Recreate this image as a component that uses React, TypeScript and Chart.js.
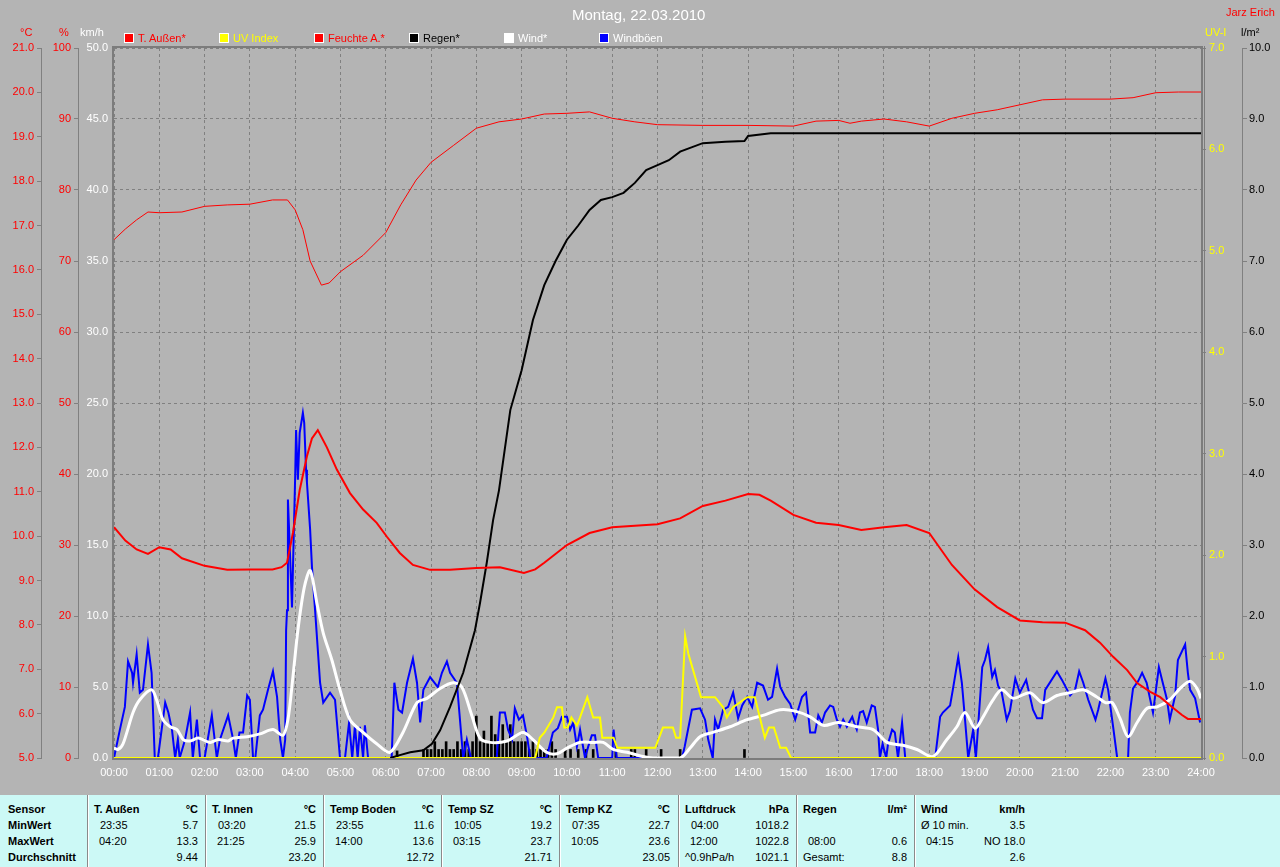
import React, { useEffect, useRef } from "react";
import { Chart, registerables } from "chart.js";

Chart.register(...registerables);

// ---------- tick labels ----------
const hourLabels = [
  "00:00", "01:00", "02:00", "03:00", "04:00", "05:00", "06:00", "07:00", "08:00",
  "09:00", "10:00", "11:00", "12:00", "13:00", "14:00", "15:00", "16:00", "17:00",
  "18:00", "19:00", "20:00", "21:00", "22:00", "23:00", "24:00",
];

// ---------- T. Außen (°C) ----------
const tempT = [0, 0.25, 0.5, 0.75, 1, 1.25, 1.5, 2, 2.5, 3, 3.5, 3.7, 3.82, 3.95, 4.1, 4.26, 4.37, 4.5, 4.7, 4.92, 5.21, 5.5, 5.8, 6.03, 6.31, 6.6, 6.98, 7.42, 8, 8.52, 9.05, 9.3, 9.5, 10, 10.5, 11, 12, 12.5, 13, 13.5, 14, 14.25, 14.5, 15, 15.5, 16, 16.5, 17, 17.5, 18, 18.5, 19, 19.5, 20, 20.5, 21, 21.44, 21.77, 22.06, 22.37, 22.59, 22.88, 23.1, 23.36, 23.58, 23.71, 24];
const tempV = [10.2, 9.9, 9.7, 9.6, 9.75, 9.7, 9.5, 9.33, 9.24, 9.25, 9.25, 9.3, 9.4, 10.07, 11.04, 11.8, 12.2, 12.39, 12.0, 11.5, 10.97, 10.6, 10.3, 9.98, 9.62, 9.35, 9.24, 9.24, 9.28, 9.3, 9.17, 9.25, 9.4, 9.8, 10.07, 10.2, 10.27, 10.4, 10.68, 10.8, 10.95, 10.93, 10.8, 10.48, 10.3, 10.25, 10.14, 10.2, 10.25, 10.07, 9.35, 8.8, 8.4, 8.1, 8.06, 8.05, 7.88, 7.6, 7.28, 6.98, 6.69, 6.49, 6.37, 6.15, 5.97, 5.88, 5.88];

// ---------- Feuchte A. (%) ----------
const humT = [0, 0.25, 0.5, 0.75, 1, 1.5, 2, 2.5, 3, 3.5, 3.83, 4, 4.17, 4.33, 4.58, 4.75, 5, 5.5, 6, 6.33, 6.67, 7, 7.5, 8, 8.5, 9, 9.5, 10, 10.5, 11, 11.5, 12, 13, 14, 15, 15.5, 16, 16.25, 16.5, 17, 17.5, 18, 18.5, 19, 19.5, 20, 20.5, 21, 22, 22.5, 23, 23.5, 24];
const humV = [73, 74.5, 75.8, 76.9, 76.8, 76.9, 77.7, 77.9, 78, 78.6, 78.6, 77.2, 74.4, 70, 66.6, 66.9, 68.5, 70.8, 74, 77.9, 81.4, 83.9, 86.3, 88.7, 89.6, 90, 90.7, 90.8, 91, 90.1, 89.6, 89.2, 89.1, 89.1, 89, 89.7, 89.8, 89.4, 89.7, 90, 89.6, 89, 90.1, 90.8, 91.3, 92, 92.7, 92.8, 92.8, 93, 93.7, 93.8, 93.8];

// ---------- Regen, cumulative (l/m²) ----------
const rainT = [6.1, 6.25, 6.54, 6.83, 7.02, 7.2, 7.42, 7.71, 7.97, 8.08, 8.23, 8.37, 8.5, 8.75, 9, 9.25, 9.5, 9.75, 10, 10.25, 10.5, 10.75, 11, 11.25, 11.5, 11.75, 12, 12.25, 12.5, 12.75, 13, 13.5, 13.92, 14, 14.5, 24];
const rainV = [0, 0.03, 0.08, 0.11, 0.2, 0.39, 0.72, 1.2, 1.8, 2.18, 2.75, 3.35, 3.77, 4.9, 5.46, 6.17, 6.66, 7.0, 7.3, 7.5, 7.72, 7.86, 7.9, 7.96, 8.1, 8.28, 8.35, 8.42, 8.54, 8.6, 8.66, 8.68, 8.69, 8.76, 8.8, 8.8];

// ---------- Regen per 5 min (l/m²) ----------
const barT = [6.25, 6.833, 6.917, 7.0, 7.083, 7.167, 7.25, 7.333, 7.417, 7.5, 7.583, 7.667, 7.75, 7.833, 7.917, 8.0, 8.083, 8.167, 8.25, 8.333, 8.417, 8.5, 8.583, 8.667, 8.75, 8.833, 8.917, 9.0, 9.083, 9.167, 9.25, 9.333, 9.417, 9.5, 9.583, 9.667, 9.75, 9.96, 10.08, 10.25, 10.42, 10.58, 11.08, 11.42, 11.5, 11.75, 12.08, 12.5, 13.92];
const barV = [0.1, 0.12, 0.12, 0.12, 0.23, 0.12, 0.12, 0.23, 0.12, 0.12, 0.23, 0.12, 0.23, 0.12, 0.23, 0.59, 0.23, 0.38, 0.23, 0.59, 0.33, 0.23, 0.47, 0.23, 0.47, 0.23, 0.23, 0.23, 0.23, 0.12, 0.23, 0.12, 0.12, 0.12, 0.12, 0.23, 0.12, 0.12, 0.12, 0.12, 0.12, 0.12, 0.12, 0.12, 0.12, 0.12, 0.12, 0.12, 0.12];

// ---------- UV Index ----------
const uvT = [0, 9.3, 9.4, 9.5, 9.7, 9.78, 9.89, 9.94, 10.02, 10.1, 10.22, 10.29, 10.45, 10.58, 10.73, 10.78, 11.03, 11.11, 11.95, 12.12, 12.34, 12.41, 12.5, 12.61, 12.68, 12.83, 12.96, 13.27, 13.45, 13.53, 13.67, 13.98, 14.15, 14.26, 14.37, 14.46, 14.57, 14.71, 14.84, 14.95, 24];
const uvV = [0, 0, 0.2, 0.25, 0.4, 0.5, 0.5, 0.3, 0.3, 0.4, 0.32, 0.4, 0.6, 0.4, 0.4, 0.2, 0.2, 0.1, 0.1, 0.3, 0.3, 0.2, 0.2, 1.2, 1.03, 0.8, 0.6, 0.6, 0.5, 0.4, 0.5, 0.6, 0.6, 0.4, 0.2, 0.3, 0.3, 0.1, 0.1, 0, 0];

// ---------- Wind (km/h) ----------
const windT = [0, 0.09, 0.2, 0.42, 0.57, 0.83, 0.94, 1.08, 1.24, 1.39, 1.53, 1.68, 1.86, 2.12, 2.3, 2.52, 2.63, 2.94, 3.22, 3.51, 3.73, 3.84, 3.95, 4.06, 4.2, 4.33, 4.48, 4.62, 4.81, 4.99, 5.21, 5.5, 5.8, 6.09, 6.38, 6.69, 6.91, 7.2, 7.49, 7.68, 7.9, 8.08, 8.3, 8.68, 9.03, 9.25, 9.55, 9.78, 10, 10.29, 10.58, 10.8, 11.02, 11.33, 11.68, 11.9, 12.5, 12.72, 12.94, 13.22, 13.6, 13.98, 14.33, 14.71, 15.04, 15.37, 15.66, 15.99, 16.4, 16.76, 17.07, 17.42, 17.73, 18.08, 18.39, 18.61, 18.79, 19.01, 19.19, 19.39, 19.6, 19.85, 20.22, 20.51, 20.82, 21.11, 21.4, 21.7, 21.89, 22.04, 22.21, 22.39, 22.59, 22.81, 23.03, 23.31, 23.54, 23.76, 23.91, 24];
const windV = [0.7, 0.6, 1.0, 3.2, 4.1, 4.8, 4.1, 2.7, 2.2, 2.0, 1.3, 1.2, 1.4, 1.1, 1.3, 1.2, 1.4, 1.5, 1.7, 2.0, 1.6, 2.7, 5.7, 9.0, 12.0, 13.2, 10.9, 8.8, 6.9, 4.8, 2.7, 1.8, 1.0, 0.4, 1.8, 3.9, 4.2, 4.9, 5.3, 5.0, 3.0, 1.4, 1.1, 1.2, 1.8, 1.3, 0.4, 0.3, 0.7, 1.1, 1.1, 1.1, 0.6, 0.4, 0.1, 0, 0, 0.7, 1.5, 1.8, 2.2, 2.7, 3.0, 3.4, 3.3, 2.9, 2.3, 2.5, 2.2, 2.0, 1.1, 0.9, 0.6, 0.1, 1.3, 2.2, 3.2, 2.1, 2.9, 4.0, 4.8, 4.2, 4.6, 3.9, 4.4, 4.6, 4.8, 4.3, 3.9, 3.9, 2.8, 1.5, 2.5, 3.5, 3.6, 4.1, 4.9, 5.4, 4.9, 4.2];

// ---------- Windböen (km/h) ----------
const gustT = [0, 0.13, 0.24, 0.31, 0.4, 0.42, 0.5, 0.57, 0.64, 0.75, 0.83, 0.9, 0.97, 1.13, 1.2, 1.28, 1.35, 1.41, 1.45, 1.57, 1.68, 1.74, 1.83, 1.9, 2, 2.16, 2.27, 2.34, 2.52, 2.63, 2.69, 2.77, 2.85, 2.94, 3, 3.07, 3.12, 3.22, 3.29, 3.4, 3.51, 3.6, 3.67, 3.73, 3.78, 3.8, 3.82, 3.84, 3.88, 3.93, 4, 4.02, 4.06, 4.1, 4.17, 4.2, 4.24, 4.26, 4.33, 4.37, 4.44, 4.55, 4.62, 4.77, 4.88, 4.99, 5.1, 5.19, 5.26, 5.32, 5.38, 5.43, 5.5, 5.54, 5.61, 6.13, 6.19, 6.28, 6.36, 6.47, 6.6, 6.69, 6.76, 6.83, 6.98, 7.15, 7.24, 7.35, 7.42, 7.57, 7.71, 7.79, 7.88, 8.45, 8.52, 8.63, 8.7, 8.79, 8.85, 8.94, 9.03, 9.12, 9.19, 9.55, 9.69, 9.8, 9.89, 10, 10.07, 10.14, 10.22, 10.29, 10.4, 10.47, 10.55, 10.62, 10.69, 11, 11.03, 11.1, 12.54, 12.6, 12.76, 12.94, 13.05, 13.12, 13.22, 13.27, 13.34, 13.45, 13.56, 13.67, 13.78, 13.87, 13.98, 14.09, 14.2, 14.33, 14.44, 14.53, 14.64, 14.71, 14.82, 14.93, 15.04, 15.19, 15.28, 15.37, 15.48, 15.55, 15.63, 15.7, 15.81, 15.88, 15.96, 16.03, 16.1, 16.18, 16.3, 16.34, 16.4, 16.47, 16.54, 16.62, 16.73, 16.8, 16.87, 16.91, 16.97, 17.05, 17.09, 17.18, 17.24, 17.31, 17.4, 17.47, 18.13, 18.24, 18.3, 18.46, 18.52, 18.64, 18.72, 18.79, 18.86, 18.97, 19.03, 19.17, 19.23, 19.3, 19.39, 19.45, 19.52, 19.6, 19.71, 19.78, 19.9, 20, 20.14, 20.29, 20.38, 20.49, 20.56, 20.82, 20.93, 21.11, 21.22, 21.31, 21.4, 21.51, 21.67, 21.73, 21.89, 21.95, 22.06, 22.15, 22.39, 22.43, 22.5, 22.61, 22.7, 22.8, 22.94, 23.07, 23.14, 23.25, 23.31, 23.43, 23.49, 23.65, 23.71, 23.76, 23.87, 23.98];
const gustV = [0, 2.0, 3.6, 6.8, 6.0, 5.3, 7.3, 4.6, 4.8, 8.0, 6.0, 0, 0, 3.9, 3.2, 2.0, 0, 1.3, 0, 1.3, 3.2, 0, 2.7, 0, 0, 3.0, 0, 1.3, 3.0, 1.3, 0, 1.8, 1.8, 4.4, 4.1, 0, 0, 3.0, 3.4, 4.8, 6.1, 4.3, 1.3, 0, 1.3, 9.0, 10.4, 18.2, 14.9, 10.6, 19.8, 23.1, 19.6, 22.9, 24.3, 23.6, 20.3, 19.4, 16.1, 13.5, 10.4, 5.3, 3.9, 4.6, 4.1, 0, 0, 2.5, 0, 2.3, 0, 2.2, 0, 2.3, 0, 0, 5.3, 3.4, 3.2, 5.3, 7.0, 5.3, 2.5, 4.8, 5.7, 5.0, 6.0, 6.8, 6.0, 5.3, 0, 1.3, 0, 0, 3.2, 3.2, 2.0, 1.3, 3.5, 2.7, 3.0, 1.5, 0, 0, 1.8, 2.1, 2.9, 2.9, 2.0, 2.5, 0.8, 2.0, 0, 0.8, 1.6, 1.6, 0, 0, 2.0, 0, 0, 0.8, 3.4, 3.5, 2.7, 1.3, 0, 2.7, 2.0, 3.4, 3.6, 4.6, 2.8, 3.7, 4.3, 3.6, 5.3, 5.1, 4.1, 4.3, 6.3, 5.0, 4.3, 3.8, 2.7, 4.3, 4.6, 1.8, 1.8, 3.0, 2.5, 3.2, 3.7, 3.6, 2.7, 2.2, 2.7, 2.2, 2.9, 2.5, 2.0, 3.2, 3.3, 2.5, 3.7, 3.6, 2.0, 0, 1.0, 0, 1.0, 2.0, 1.8, 0, 2.5, 0, 0, 2.9, 3.2, 3.7, 4.8, 7.1, 5.3, 2.7, 0, 2.0, 0, 6.4, 6.9, 7.8, 5.7, 6.2, 5.1, 4.6, 2.7, 3.3, 5.6, 4.6, 5.5, 3.4, 2.8, 2.8, 4.8, 6.1, 5.5, 4.4, 4.8, 6.1, 5.3, 4.1, 2.7, 3.4, 5.6, 4.8, 2.2, 0, 0, 3.2, 4.9, 5.4, 6.0, 5.3, 3.2, 6.4, 5.5, 4.1, 2.7, 4.4, 6.9, 8.0, 6.0, 4.8, 4.2, 2.5];

// ---------- legend ----------
const legendNames = ["T. Außen*", "UV Index", "Feuchte A.*", "Regen*", "Wind*", "Windböen"];
const legendBoxColors = ["#ff0000", "#ffff00", "#ff0000", "#000000", "#ffffff", "#0000ff"];
const legendTextColors = ["#ff0000", "#ffff00", "#ff0000", "#000000", "#ffffff", "#ffffff"];

// ---------- summary table ----------
const rowNames = ["Sensor", "MinWert", "MaxWert", "Durchschnitt"];
const colNames = ["T. Außen", "T. Innen", "Temp Boden", "Temp SZ", "Temp KZ", "Luftdruck", "Regen", "Wind"];
const colUnits = ["°C", "°C", "°C", "°C", "°C", "hPa", "l/m²", "km/h"];
const minTimes = ["23:35", "03:20", "23:55", "10:05", "07:35", "04:00", "", ""];
const minLabels = ["", "", "", "", "", "", "", "Ø 10 min."];
const minValues = ["5.7", "21.5", "11.6", "19.2", "22.7", "1018.2", "", "3.5"];
const maxTimes = ["04:20", "21:25", "14:00", "03:15", "10:05", "12:00", "08:00", "04:15"];
const maxValues = ["13.3", "25.9", "13.6", "23.7", "23.6", "1022.8", "0.6", "NO 18.0"];
const avgLabels = ["", "", "", "", "", "^0.9hPa/h", "Gesamt:", ""];
const avgValues = ["9.44", "23.20", "12.72", "21.71", "23.05", "1021.1", "8.8", "2.6"];

const pts = (t: number[], v: number[]) => t.map((x, i) => ({ x, y: v[i] }));
const fmt1 = (v: any) => Number(v).toFixed(1);

const FONT = '"Liberation Sans", Arial, sans-serif';
const GRID = "#808080";

export default function App() {
  const ref = useRef<HTMLCanvasElement>(null);

  useEffect(() => {
    if (!ref.current) return;
    Chart.defaults.font.family = FONT;
    Chart.defaults.font.size = 11;

    const frame = {
      id: "frame",
      beforeDatasetsDraw(chart: any) {
        const { ctx, chartArea: a } = chart;
        ctx.save();
        ctx.strokeStyle = "#7c7c7c";
        ctx.lineWidth = 2;
        ctx.strokeRect(a.left - 1, a.top - 1, a.right - a.left + 2, a.bottom - a.top + 2);
        ctx.lineWidth = 1;
        ctx.beginPath();
        ctx.moveTo(a.right + 3.5, a.top - 2);
        ctx.lineTo(a.right + 3.5, a.bottom + 2);
        ctx.stroke();
        ctx.restore();
      },
    };

    const chart = new Chart(ref.current, {
      type: "line",
      data: {
        datasets: [
          { type: "line", label: "Feuchte A.*", data: pts(humT, humV), yAxisID: "yH", borderColor: "#ff0000", borderWidth: 1, pointRadius: 0, tension: 0 },
          { type: "line", label: "T. Außen*", data: pts(tempT, tempV), yAxisID: "yT", borderColor: "#ff0000", borderWidth: 2, pointRadius: 0, tension: 0 },
          { type: "line", label: "Regen*", data: pts(rainT, rainV), yAxisID: "yR", borderColor: "#000000", borderWidth: 2, pointRadius: 0, tension: 0 },
          { type: "line", label: "UV Index", data: pts(uvT, uvV), yAxisID: "yU", borderColor: "#ffff00", borderWidth: 2, pointRadius: 0, tension: 0 },
          { type: "line", label: "Wind*", data: pts(windT, windV), yAxisID: "yW", borderColor: "#ffffff", borderWidth: 3, pointRadius: 0, tension: 0.3 },
          { type: "line", label: "Windböen", data: pts(gustT, gustV), yAxisID: "yW", borderColor: "#0000ff", borderWidth: 2, pointRadius: 0, tension: 0 },
          { type: "bar", label: "Regen 5 min", data: pts(barT, barV), yAxisID: "yR", backgroundColor: "#000000", barThickness: 2, grouped: false },
        ] as any,
      },
      options: {
        animation: false,
        responsive: false,
        events: [],
        layout: { padding: { top: 48, left: 0, right: 0, bottom: 0 } },
        plugins: { legend: { display: false }, tooltip: { enabled: false }, title: { display: false } },
        scales: {
          x: {
            type: "linear", position: "bottom", min: 0, max: 24, offset: false,
            ticks: { stepSize: 1, autoSkip: false, maxRotation: 0, color: "#ffffff", padding: 8, callback: (v: any) => hourLabels[Math.round(Number(v))] },
            grid: { color: GRID, lineWidth: 1, drawTicks: false, offset: false },
            border: { display: false, dash: [3, 3] },
            afterFit: (s: any) => { s.height = 32; },
          },
          yW: {
            type: "linear", position: "left", weight: 0, min: 0, max: 50,
            ticks: { stepSize: 5, color: "#ffffff", padding: 6, callback: fmt1 },
            grid: { color: GRID, lineWidth: 1, drawTicks: false },
            border: { display: false, dash: [3, 3] },
            afterFit: (s: any) => { s.width = 36; },
          },
          yH: {
            type: "linear", position: "left", weight: 1, min: 0, max: 100,
            ticks: { stepSize: 10, color: "#ff0000", padding: 3 },
            grid: { drawOnChartArea: false, color: GRID, tickLength: 4 },
            border: { color: GRID, width: 1 },
            afterFit: (s: any) => { s.width = 37; },
          },
          yT: {
            type: "linear", position: "left", weight: 2, min: 5, max: 21,
            ticks: { stepSize: 1, color: "#ff0000", padding: 3, callback: fmt1 },
            grid: { drawOnChartArea: false, color: GRID, tickLength: 4 },
            border: { color: GRID, width: 1 },
            afterFit: (s: any) => { s.width = 41; },
          },
          yU: {
            type: "linear", position: "right", weight: 0, min: 0, max: 7,
            ticks: { stepSize: 1, color: "#ffff00", padding: 3, callback: fmt1 },
            grid: { drawOnChartArea: false, color: GRID, tickLength: 5 },
            border: { display: false },
            afterFit: (s: any) => { s.width = 41; },
          },
          yR: {
            type: "linear", position: "right", weight: 1, min: 0, max: 10,
            ticks: { stepSize: 1, color: "#000000", padding: 2, callback: fmt1 },
            grid: { drawOnChartArea: false, color: GRID, tickLength: 5 },
            border: { color: GRID, width: 1 },
            afterFit: (s: any) => { s.width = 38; },
          },
        },
      } as any,
      plugins: [frame],
    });
    return () => chart.destroy();
  }, []);

  const txt = (left: number, top: number, color: string, content: string, extra: any = {}) => (
    <div style={{ position: "absolute", left, top, color, lineHeight: "12px", whiteSpace: "nowrap", ...extra }}>{content}</div>
  );

  const seps = colNames.map((_, i) => Math.round(88 + 118.1 * i));
  const rowTop = [801, 817, 833, 849];

  return (
    <div style={{ position: "absolute", left: 0, top: 0, width: 1280, height: 867, background: "#b4b4b4", fontFamily: FONT, fontSize: 11, overflow: "hidden" }}>
      <canvas ref={ref} width={1280} height={790} style={{ position: "absolute", left: 0, top: 0, width: 1280, height: 790 }} />

      {txt(572, 6, "#ffffff", "Montag, 22.03.2010", { fontSize: 15, lineHeight: "17px" })}
      {txt(1226, 6, "#ff0000", "Jarz Erich")}

      {txt(20, 26, "#ff0000", "°C")}
      {txt(59, 26, "#ff0000", "%")}
      {txt(80, 26, "#ffffff", "km/h")}
      {txt(1205, 26, "#ffff00", "UV-I")}
      {txt(1241, 26, "#000000", "l/m²")}

      {legendNames.map((n, i) => (
        <React.Fragment key={n}>
          <div style={{ position: "absolute", left: 124 + 95 * i, top: 33, width: 10, height: 10, boxSizing: "border-box", border: "1px solid #ffffff", background: legendBoxColors[i] }} />
          {txt(138 + 95 * i, 32, legendTextColors[i], n)}
        </React.Fragment>
      ))}

      <div style={{ position: "absolute", left: 0, top: 795, width: 1280, height: 72, background: "#ccf9f6" }} />
      {seps.map((s) => (
        <div key={s} style={{ position: "absolute", left: s - 1, top: 795, width: 1, height: 72, background: "#8a8a8a", borderRight: "1px solid #ffffff" }} />
      ))}
      {rowNames.map((r, i) => (
        <div key={r} style={{ position: "absolute", left: 8, top: rowTop[i], lineHeight: "16px", fontWeight: "bold", color: "#000" }}>{r}</div>
      ))}
      {colNames.map((c, i) => {
        const s = seps[i];
        const cell = (top: number, left: number, content: string, align: "left" | "right", bold = false) =>
          content ? (
            <div style={{ position: "absolute", left, top, width: align === "right" ? 0 : undefined, lineHeight: "16px", fontWeight: bold ? "bold" : "normal", color: "#000", whiteSpace: "nowrap", direction: align === "right" ? "rtl" : "ltr" }}>
              {align === "right" ? <span style={{ direction: "ltr", unicodeBidi: "isolate" }}>{content}</span> : content}
            </div>
          ) : null;
        return (
          <React.Fragment key={c}>
            {cell(rowTop[0], s + 6, c, "left", true)}
            {cell(rowTop[0], s + 110, colUnits[i], "right", true)}
            {cell(rowTop[1], s + 12, minTimes[i], "left")}
            {cell(rowTop[1], s + 6, minLabels[i], "left")}
            {cell(rowTop[1], s + 110, minValues[i], "right")}
            {cell(rowTop[2], s + 11, maxTimes[i], "left")}
            {cell(rowTop[2], s + 110, maxValues[i], "right")}
            {cell(rowTop[3], s + 6, avgLabels[i], "left")}
            {cell(rowTop[3], s + 110, avgValues[i], "right")}
          </React.Fragment>
        );
      })}
    </div>
  );
}
